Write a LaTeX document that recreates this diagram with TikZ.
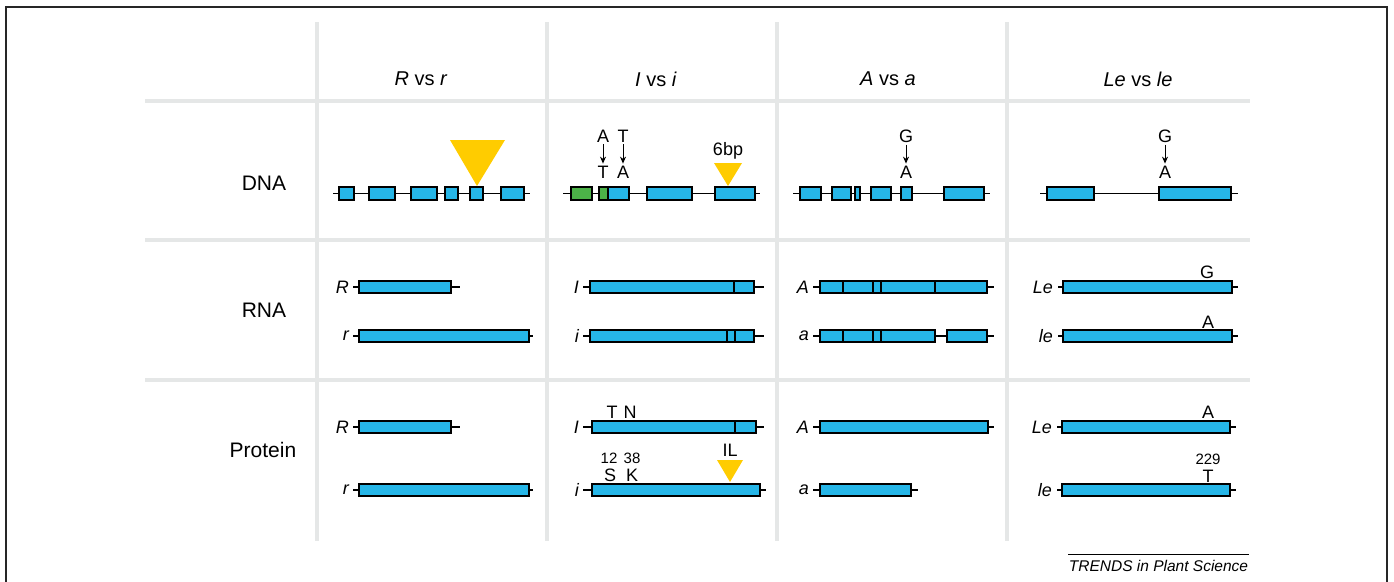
\documentclass[tikz,border=0pt]{standalone}
\usepackage{fontspec}
\setmainfont{Liberation Sans}
\usetikzlibrary{arrows.meta}
\definecolor{exonblue}{RGB}{38,182,232}
\definecolor{exongreen}{RGB}{76,178,72}
\definecolor{insyellow}{RGB}{255,204,0}
\definecolor{gridgrey}{RGB}{229,231,231}
\tikzset{
  grid/.style={gridgrey,line width=4pt},
  hdr/.style={font=\fontsize{20}{24}\selectfont},
  rowhdr/.style={font=\fontsize{21}{24}\selectfont},
  exon/.style={draw=black,fill=exonblue,line width=1.4pt},
  gexon/.style={draw=black,fill=exongreen,line width=1.4pt},
  gline/.style={line width=1.3pt},
  divider/.style={line width=1.4pt},
  glab/.style={font=\fontsize{18}{20}\selectfont\itshape,anchor=east,inner sep=0pt},
  mut/.style={font=\fontsize{18}{20}\selectfont,inner sep=2pt},
  posnum/.style={font=\fontsize{15}{18}\selectfont,inner sep=1pt},
  snp/.style={-{Stealth[length=7pt,width=6pt]},line width=1pt},
}
\begin{document}
\begin{tikzpicture}[x=1pt,y=-1pt]
\useasboundingbox (0,0) rectangle (1394,581);
% frame and grid
\draw[line width=1.2pt,black!85] (6,600) -- (6,7) -- (1387,7) -- (1387,600);
\foreach \y in {101,240,380} \draw[grid] (145,\y) -- (1250,\y);
\foreach \x in {317,547,777,1007} \draw[grid] (\x,22) -- (\x,541);
% column heads
\node[hdr] (hR) at (421,79) {\textit{R} vs \textit{r}};
\node[hdr] (hI) at (656,79) {\textit{I} vs \textit{i}};
\node[hdr] (hA) at (888,79) {\textit{A} vs \textit{a}};
\node[hdr] (hLe) at (1138,79) {\textit{Le} vs \textit{le}};
% row heads
\node[rowhdr] (rDNA) at (264,183) {DNA};
\node[rowhdr] (rRNA) at (264,310) {RNA};
\node[rowhdr] (rProt) at (263,450) {Protein};

% ---- R vs r
\draw[gline] (333,193.5) -- (530,193.5);
\foreach \a/\b in {339/354,369/395,411/437,445/458,470/483,501/524}
  \draw[exon] (\a,187) rectangle (\b,200);
\fill[insyellow] (450,140) -- (505,140) -- (477,186) -- cycle;
\node[glab] (rnaR) at (349,287) {R};
\draw[gline] (353,287) -- (460,287);
\draw[exon] (359,281) rectangle (451,293);
\node[glab] (rnar) at (349,336) {r};
\draw[gline] (353,336) -- (533,336);
\draw[exon] (359,330) rectangle (529,342);
\node[glab] (protR) at (349,427) {R};
\draw[gline] (353,427) -- (460,427);
\draw[exon] (359,421) rectangle (451,433);
\node[glab] (protr) at (349,490) {r};
\draw[gline] (353,490) -- (533,490);
\draw[exon] (359,484) rectangle (529,496);

% ---- I vs i
\draw[gline] (563,193.5) -- (760,193.5);
\draw[gexon] (571,187) rectangle (592,200);
\draw[exon] (599,187) rectangle (629,200);
\draw[gexon] (599,187) rectangle (608,200);
\foreach \a/\b in {647/692,715/755}
  \draw[exon] (\a,187) rectangle (\b,200);
\fill[insyellow] (714,163) -- (742,163) -- (728,186) -- cycle;
\node[mut,anchor=base] (bp) at (728,155) {6bp};
\node[mut] (iA) at (603,136) {A};
\node[mut] (iT2) at (603,172) {T};
\draw[snp] (iA) -- (iT2);
\node[mut] (iT) at (623,136) {T};
\node[mut] (iA2) at (623,172) {A};
\draw[snp] (iT) -- (iA2);
\node[glab] (rnaI) at (579,287) {I};
\draw[gline] (583,287) -- (764,287);
\draw[exon] (590,281) rectangle (754,293);
\draw[divider] (734,281) -- (734,293);
\node[glab] (rnai) at (579,336) {i};
\draw[gline] (583,336) -- (764,336);
\draw[exon] (590,330) rectangle (754,342);
\foreach \x in {727,735} \draw[divider] (\x,330) -- (\x,342);
\node[glab] (protI) at (579,427) {I};
\draw[gline] (583,427) -- (764,427);
\draw[exon] (592,421) rectangle (756,433);
\draw[divider] (735,421) -- (735,433);
\node[mut] (pT) at (612,412) {T};
\node[mut] (pN) at (630,412) {N};
\node[glab] (proti) at (579,490) {i};
\draw[gline] (583,490) -- (766,490);
\draw[exon] (592,484) rectangle (760,496);
\node[posnum] (p12) at (609,458) {12};
\node[posnum] (p38) at (632,458) {38};
\node[mut] (pS) at (610,475) {S};
\node[mut] (pK) at (632,475) {K};
\node[mut] (pIL) at (730,450) {IL};
\fill[insyellow] (717,460) -- (743,460) -- (730,482) -- cycle;

% ---- A vs a
\draw[gline] (793,193.5) -- (990,193.5);
\foreach \a/\b in {800/821,832/851,855/860,871/891,901/912,944/984}
  \draw[exon] (\a,187) rectangle (\b,200);
\node[mut] (aG) at (906,136) {G};
\node[mut] (aA) at (906,172) {A};
\draw[snp] (aG) -- (aA);
\node[glab] (rnaA) at (809,287) {A};
\draw[gline] (813,287) -- (994,287);
\draw[exon] (820,281) rectangle (987,293);
\foreach \x in {843,873,881,935} \draw[divider] (\x,281) -- (\x,293);
\node[glab] (rnaa) at (809,336) {a};
\draw[gline] (813,336) -- (994,336);
\draw[exon] (820,330) rectangle (935,342);
\draw[exon] (947,330) rectangle (987,342);
\foreach \x in {843,873,881} \draw[divider] (\x,330) -- (\x,342);
\node[glab] (protA) at (809,427) {A};
\draw[gline] (813,427) -- (994,427);
\draw[exon] (820,421) rectangle (988,433);
\node[glab] (prota) at (809,490) {a};
\draw[gline] (813,490) -- (918,490);
\draw[exon] (820,484) rectangle (911,496);

% ---- Le vs le
\draw[gline] (1040,193.5) -- (1238,193.5);
\foreach \a/\b in {1047/1094,1159/1231}
  \draw[exon] (\a,187) rectangle (\b,200);
\node[mut] (lG) at (1165,136) {G};
\node[mut] (lA) at (1165,172) {A};
\draw[snp] (lG) -- (lA);
\node[glab] (rnaLe) at (1053,287) {Le};
\draw[gline] (1058,287) -- (1238,287);
\draw[exon] (1063,281) rectangle (1232,293);
\node[mut] (rG) at (1207,272) {G};
\node[glab] (rnale) at (1053,336) {le};
\draw[gline] (1058,336) -- (1238,336);
\draw[exon] (1063,330) rectangle (1232,342);
\node[mut] (rA) at (1208,322) {A};
\node[glab] (protLe) at (1052,427) {Le};
\draw[gline] (1057,427) -- (1236,427);
\draw[exon] (1062,421) rectangle (1230,433);
\node[mut] (qA) at (1208,412) {A};
\node[glab] (protle) at (1052,490) {le};
\draw[gline] (1057,490) -- (1236,490);
\draw[exon] (1062,484) rectangle (1230,496);
\node[posnum] (p229) at (1208,459) {229};
\node[mut] (qT) at (1208,476) {T};

% footer
\draw[line width=0.8pt] (1068,554) -- (1249,554);
\node[font=\fontsize{15.5}{18}\selectfont\itshape] (foot) at (1158.5,566) {TRENDS in Plant Science};
\end{tikzpicture}
\end{document}
